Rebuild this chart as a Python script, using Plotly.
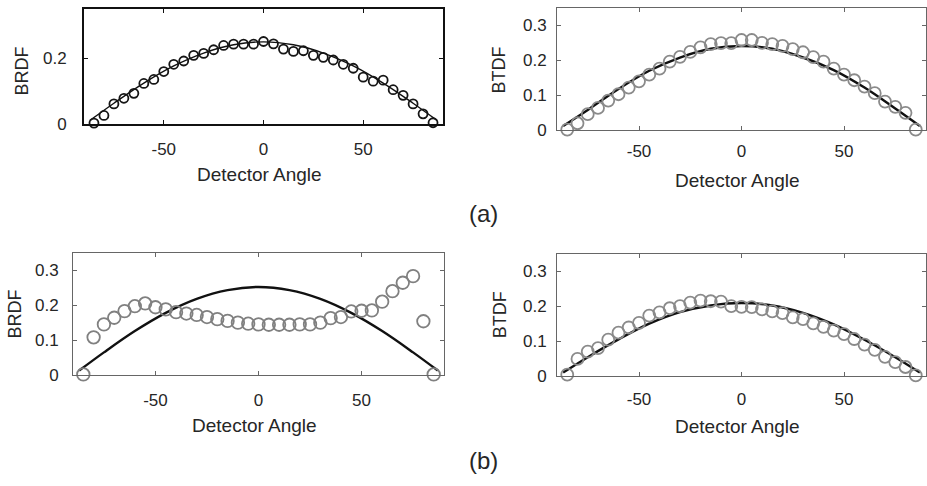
import plotly.graph_objects as go

# ---------------- data ----------------
ANGLES = [-85, -80, -75, -70, -65, -60, -55, -50, -45, -40, -35, -30, -25, -20, -15, -10, -5,
          0, 5, 10, 15, 20, 25, 30, 35, 40, 45, 50, 55, 60, 65, 70, 75, 80, 85]

BRDF_A = [0.004, 0.027, 0.062, 0.079, 0.094, 0.124, 0.136, 0.160, 0.182, 0.192, 0.209, 0.215,
          0.226, 0.239, 0.243, 0.243, 0.243, 0.251, 0.244, 0.228, 0.221, 0.223, 0.209, 0.203,
          0.195, 0.182, 0.170, 0.143, 0.131, 0.134, 0.105, 0.088, 0.062, 0.032, 0.005]
BTDF_A = [0.002, 0.020, 0.046, 0.064, 0.085, 0.103, 0.122, 0.140, 0.159, 0.176, 0.196, 0.210,
          0.224, 0.237, 0.246, 0.249, 0.249, 0.258, 0.258, 0.250, 0.246, 0.241, 0.232, 0.223,
          0.209, 0.196, 0.176, 0.159, 0.143, 0.125, 0.106, 0.082, 0.067, 0.050, 0.002]
BRDF_B = [0.002, 0.108, 0.145, 0.164, 0.183, 0.197, 0.205, 0.194, 0.188, 0.180, 0.176, 0.172,
          0.166, 0.160, 0.155, 0.150, 0.147, 0.145, 0.144, 0.144, 0.144, 0.145, 0.145, 0.150,
          0.163, 0.166, 0.182, 0.184, 0.185, 0.210, 0.240, 0.264, 0.283, 0.154, 0.002]
BTDF_B = [0.004, 0.049, 0.070, 0.080, 0.104, 0.124, 0.139, 0.152, 0.173, 0.182, 0.194, 0.200,
          0.210, 0.216, 0.214, 0.213, 0.200, 0.198, 0.197, 0.191, 0.185, 0.180, 0.168, 0.163,
          0.151, 0.141, 0.130, 0.120, 0.106, 0.090, 0.075, 0.055, 0.040, 0.026, 0.002]

FIT_X = [-87, -75, -60, -45, -30, -15, 0, 15, 30, 45, 60, 75, 87]
FIT_BRDF_A = [0.012, 0.064, 0.125, 0.177, 0.216, 0.241, 0.250, 0.241, 0.216, 0.177, 0.125, 0.064, 0.012]
FIT_BTDF_A = [0.012, 0.058, 0.118, 0.170, 0.208, 0.233, 0.241, 0.233, 0.208, 0.172, 0.122, 0.062, 0.012]
FIT_BRDF_B = [0.013, 0.065, 0.126, 0.178, 0.218, 0.243, 0.252, 0.243, 0.218, 0.178, 0.126, 0.065, 0.013]
FIT_BTDF_B = [0.010, 0.054, 0.105, 0.150, 0.183, 0.202, 0.209, 0.202, 0.181, 0.148, 0.104, 0.054, 0.010]

X_TICKS = [-50, 0, 50]
X_TICK_TEXT = ["-50", "0", "50"]
Y_TICKS_A1 = [0, 0.2]
Y_TICK_TEXT_A1 = ["0", "0.2"]
Y_TICKS = [0, 0.1, 0.2, 0.3]
Y_TICK_TEXT = ["0", "0.1", "0.2", "0.3"]

X_TITLE = "Detector Angle"
PANEL_LABELS = ["(a)", "(b)"]

# ---------------- layout geometry ----------------
W, H = 927, 486
FONT = "Arial, 'Liberation Sans', Helvetica, sans-serif"
TXT = "#262626"

def px(x):
    return x / W

def py(y):
    return 1 - y / H

# panel boxes in pixels: (left, right, top, bottom)
boxes = [
    (84, 443, 9, 127),
    (557, 926, 8, 133),
    (73, 444, 258, 383),
    (557, 926, 259, 384),
]

# marks, fit, y title, y ticks, y tick text, frame colour, frame width, marker colour,
# marker size, marker line width, fit line width
panels = [
    (BRDF_A, FIT_BRDF_A, "BRDF", Y_TICKS_A1, Y_TICK_TEXT_A1, "#111111", 1.8, "#151515", 9, 1.8, 1.4),
    (BTDF_A, FIT_BTDF_A, "BTDF", Y_TICKS, Y_TICK_TEXT, "#666666", 1.0, "#8a8a8a", 12, 1.8, 2.4),
    (BRDF_B, FIT_BRDF_B, "BRDF", Y_TICKS, Y_TICK_TEXT, "#666666", 1.0, "#808080", 12.5, 1.8, 2.4),
    (BTDF_B, FIT_BTDF_B, "BTDF", Y_TICKS, Y_TICK_TEXT, "#666666", 1.0, "#8a8a8a", 12, 1.8, 2.4),
]

ylab_standoff = [12, 6, 10, 6]
xlab_standoff = [8, 5, 9, 8]

fig = go.Figure()
layout = dict(
    width=W, height=H,
    margin=dict(l=0, r=0, t=0, b=0),
    paper_bgcolor="white", plot_bgcolor="white",
    showlegend=False,
    font=dict(family=FONT, color=TXT, size=17),
)

annotations = []
for i, (marks, fit, ytitle, yt, ytt, framec, framew, mcol, msize, mlw, flw) in enumerate(panels):
    n = "" if i == 0 else str(i + 1)
    xa, ya = "x" + n, "y" + n
    l, r, t, b = boxes[i]
    fig.add_trace(go.Scatter(
        x=FIT_X, y=fit, mode="lines", xaxis=xa, yaxis=ya,
        line=dict(color="#111111", width=flw, shape="spline", smoothing=1.0),
        cliponaxis=False, hoverinfo="skip"))
    fig.add_trace(go.Scatter(
        x=ANGLES, y=marks, mode="markers", xaxis=xa, yaxis=ya,
        marker=dict(symbol="circle-open", size=msize, color=mcol, line=dict(width=mlw, color=mcol)),
        cliponaxis=False))
    common = dict(showgrid=False, zeroline=False, showline=True, mirror="ticks",
                  linecolor=framec, linewidth=framew, ticks="inside", ticklen=4,
                  tickcolor=framec, tickwidth=1,
                  tickfont=dict(family=FONT, size=17, color=TXT))
    layout["xaxis" + n] = dict(common, domain=[px(l), px(r)], anchor=ya, range=[-90, 90],
                               tickmode="array", tickvals=X_TICKS, ticktext=X_TICK_TEXT,
                               ticklabelstandoff=xlab_standoff[i])
    layout["yaxis" + n] = dict(common, domain=[py(b), py(t)], anchor=xa, range=[0, 0.35],
                               tickmode="array", tickvals=yt, ticktext=ytt,
                               ticklabelstandoff=ylab_standoff[i])
    annotations.append(dict(text=X_TITLE, xref="paper", yref="paper",
                            x=px((l + r) / 2 - 4), y=py(b + 51), xanchor="center", yanchor="middle",
                            showarrow=False, font=dict(family=FONT, size=19, color=TXT)))

ytitle_pos = [(22, 73), (499, 72), (15, 320), (500, 322)]
for i, (x, y) in enumerate(ytitle_pos):
    annotations.append(dict(text=panels[i][2], xref="paper", yref="paper", x=px(x), y=py(y),
                            xanchor="center", yanchor="middle", textangle=-90, showarrow=False,
                            font=dict(family=FONT, size=18, color=TXT)))

annotations.append(dict(text=PANEL_LABELS[0], xref="paper", yref="paper", x=px(483), y=py(218),
                        xanchor="center", yanchor="middle", showarrow=False,
                        font=dict(family=FONT, size=24, color=TXT)))
annotations.append(dict(text=PANEL_LABELS[1], xref="paper", yref="paper", x=px(483), y=py(470),
                        xanchor="center", yanchor="middle", showarrow=False,
                        font=dict(family=FONT, size=24, color=TXT)))

layout["annotations"] = annotations
fig.update_layout(**layout)
fig.write_html("out.html")
